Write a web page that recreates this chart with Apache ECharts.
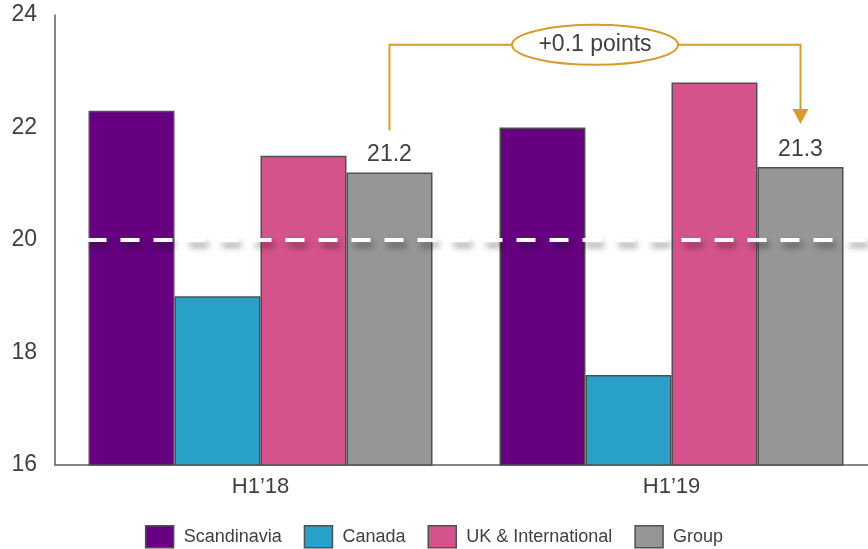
<!DOCTYPE html>
<html>
<head>
<meta charset="utf-8">
<script src="https://cdn.jsdelivr.net/npm/echarts@6/dist/echarts.min.js"></script>
<style>
  html, body { margin: 0; padding: 0; background: #fff; }
  #chart { width: 868px; height: 549px; }
</style>
</head>
<body>
<div id="chart"></div>
<script>
// data
const categories = ['H1\u201918', 'H1\u201919']
const scandinavia = [22.3, 22.0]
const canada = [19.0, 17.6]
const ukIntl = [21.5, 22.8]
const group = [21.2, 21.3]
const referenceLine = 20
const changeLabel = '+0.1 points'
const yTicks = { min: 16, max: 24, interval: 2 }

const font = 'Arial, "Liberation Sans", sans-serif'
const textColor = '#404040'
const gold = '#D89B2E'

const chart = echarts.init(document.getElementById('chart'))

function barSeries(name, data, color, extra) {
    return Object.assign({
        name: name,
        type: 'bar',
        data: data,
        barGap: '0%',
        barWidth: 86,
        itemStyle: { color: color, borderColor: '#505050', borderWidth: 1.5 }
    }, extra || {})
}

const options = {
    animation: false,
    grid: { left: 55, right: -9, top: 15, bottom: 84, outerBoundsMode: 'none' },
    // 图例
    legend: {
        top: 520,
        left: 'center',
        itemWidth: 28,
        itemHeight: 22,
        itemGap: 22,
        icon: 'rect',
        textStyle: { fontFamily: font, fontSize: 18, color: textColor, padding: [0, 0, 0, 5] },
        itemStyle: { borderColor: '#505050', borderWidth: 1.5 }
    },
    xAxis: {
        type: 'category',
        data: categories,
        axisTick: { show: false },
        axisLine: { lineStyle: { color: '#606060', width: 1.5 } },
        axisLabel: { fontFamily: font, fontSize: 22, color: textColor, margin: 11 }
    },
    yAxis: {
        type: 'value',
        min: yTicks.min,
        max: yTicks.max,
        interval: yTicks.interval,
        splitLine: { show: false },
        axisTick: { show: false },
        axisLine: { show: true, lineStyle: { color: '#606060', width: 1.5 } },
        axisLabel: { fontFamily: font, fontSize: 23, color: textColor, margin: 18 }
    },
    series: [
        barSeries('Scandinavia', scandinavia, '#660080'),
        barSeries('Canada', canada, '#29A0C8'),
        barSeries('UK & International', ukIntl, '#D4538C'),
        barSeries('Group', group, '#969696', {
            label: {
                show: true,
                position: 'top',
                distance: 6,
                fontFamily: font,
                fontSize: 23,
                color: textColor,
                formatter: p => p.value.toFixed(1)
            }
        })
    ]
}

chart.setOption(options)

// layout of the drawn bars, used to place the reference line and the bracket
const firstBar = chart.getModel().getSeriesByIndex(0).getData().getItemLayout(0)
const groupData = chart.getModel().getSeriesByIndex(3).getData()
const l0 = groupData.getItemLayout(0)
const l1 = groupData.getItemLayout(1)
const x0 = l0.x + l0.width / 2
const x1 = l1.x + l1.width / 2
const yStart = Math.min(l0.y, l0.y + l0.height) - 42
const yEnd = Math.min(l1.y, l1.y + l1.height) - 43
const yBar = chart.convertToPixel({ yAxisIndex: 0 }, 23.47)
const yRef = chart.convertToPixel({ yAxisIndex: 0 }, referenceLine)
const cx = (x0 + x1) / 2

chart.setOption({
    series: [{}, {}, {}, {
        markLine: {
            silent: true,
            symbol: 'none',
            z: 10,
            label: { show: false },
            lineStyle: {
                color: '#ffffff',
                width: 4,
                type: [19, 14],
                shadowColor: 'rgba(0,0,0,0.45)',
                shadowBlur: 6,
                shadowOffsetX: 3,
                shadowOffsetY: 5
            },
            data: [[{ x: firstBar.x - 1, y: yRef }, { x: chart.getWidth(), y: yRef }]]
        }
    }],
    graphic: [
        {
            type: 'polyline',
            z: 20,
            shape: { points: [[x0, yStart], [x0, yBar], [x1, yBar], [x1, yEnd - 14]] },
            style: { stroke: gold, lineWidth: 2, fill: null }
        },
        {
            type: 'polygon',
            z: 20,
            shape: { points: [[x1 - 8, yEnd - 15], [x1 + 8, yEnd - 15], [x1, yEnd]] },
            style: { fill: gold }
        },
        {
            type: 'ellipse',
            z: 21,
            shape: { cx: cx, cy: yBar, rx: 83, ry: 20 },
            style: { fill: '#ffffff', stroke: gold, lineWidth: 2 }
        },
        {
            type: 'text',
            z: 22,
            x: cx,
            y: yBar,
            style: {
                text: changeLabel,
                fontFamily: font,
                fontSize: 23,
                fill: textColor,
                align: 'center',
                verticalAlign: 'middle'
            }
        }
    ]
})
</script>
</body>
</html>
